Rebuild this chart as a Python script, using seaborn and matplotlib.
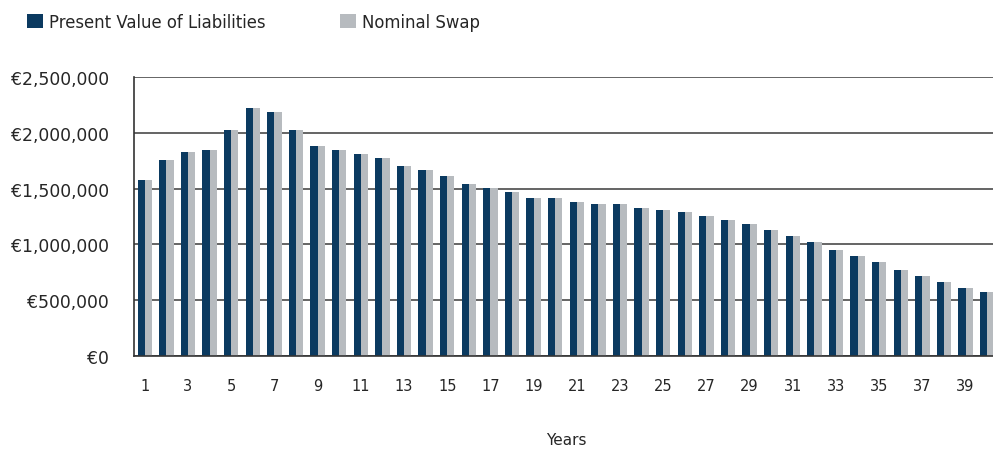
import pandas as pd
import numpy as np
import matplotlib.pyplot as plt
import seaborn as sns
from matplotlib.ticker import FuncFormatter

# Values (EUR)
years = list(range(1, 41))
pv_liabilities = [1575000, 1753000, 1825000, 1843000, 2022000, 2219000, 2183000, 2022000,
                  1879000, 1843000, 1807000, 1771000, 1700000, 1664000, 1610000, 1538000,
                  1502000, 1467000, 1413000, 1413000, 1377000, 1359000, 1359000, 1323000,
                  1305000, 1287000, 1251000, 1216000, 1180000, 1126000, 1072000, 1018000,
                  947000, 893000, 839000, 768000, 714000, 660000, 606000, 570000]
nominal_swap = [1575000, 1753000, 1825000, 1843000, 2022000, 2219000, 2183000, 2022000,
                1879000, 1843000, 1807000, 1771000, 1700000, 1664000, 1610000, 1538000,
                1502000, 1467000, 1413000, 1413000, 1377000, 1359000, 1359000, 1323000,
                1305000, 1287000, 1251000, 1216000, 1180000, 1126000, 1072000, 1018000,
                947000, 893000, 839000, 768000, 714000, 660000, 606000, 570000]
series_names = ["Present Value of Liabilities", "Nominal Swap"]
colors = ["#0b3a60", "#b7bbbf"]

df = pd.DataFrame({
    "Year": years * 2,
    "Value": pv_liabilities + nominal_swap,
    "Series": [series_names[0]] * len(years) + [series_names[1]] * len(years),
})

sns.set_style("white")
plt.rcParams['font.family'] = ['DejaVu Sans']

fig = plt.figure(figsize=(9.93, 4.52), dpi=100)
ax = fig.add_axes([134 / 993, 95 / 452, 864 / 993, 279 / 452])

sns.barplot(data=df, x="Year", y="Value", hue="Series", palette=colors,
            width=0.66, saturation=1, linewidth=0, ax=ax)

# y axis
ax.set_ylim(0, 2500000)
ax.set_yticks(np.arange(0, 2500001, 500000))
ax.yaxis.set_major_formatter(FuncFormatter(lambda v, p: "€{:,}".format(int(v))))
ax.yaxis.grid(True, color="#4a4a4a", linewidth=1.2)
ax.set_axisbelow(True)
ax.tick_params(axis="y", which="major", direction="out", length=6, width=1,
               color="#333333", labelsize=12.4, pad=12)
ax.set_ylabel("")

# x axis: ticks at category boundaries, labels on odd years
ax.set_xlim(-0.5, len(years) - 0.5)
ax.set_xticks(np.arange(-0.5, len(years), 1.0))
ax.set_xticklabels([])
ax.set_xticks(np.arange(0, len(years), 2), minor=True)
ax.set_xticklabels([str(y) for y in years[::2]], minor=True)
ax.tick_params(axis="x", which="major", direction="out", length=6, width=1, color="#333333")
ax.tick_params(axis="x", which="minor", length=0, pad=16, labelsize=10.5)
ax.set_xlabel("Years", fontsize=11, labelpad=28)

for side in ["top", "right"]:
    ax.spines[side].set_visible(False)
for side in ["left", "bottom"]:
    ax.spines[side].set_color("#333333")
    ax.spines[side].set_linewidth(1.2)

# legend across the top
handles, labels = ax.get_legend_handles_labels()
ax.legend_.remove()
fig.legend(handles, labels, ncol=2, loc="upper left",
           bbox_to_anchor=(27 / 993, 1 - 14 / 452), frameon=False,
           fontsize=11.9, handlelength=0.95, handleheight=0.95, handletextpad=0.4,
           columnspacing=4.5, borderpad=0, borderaxespad=0)

fig.savefig("out.png", dpi=100)
